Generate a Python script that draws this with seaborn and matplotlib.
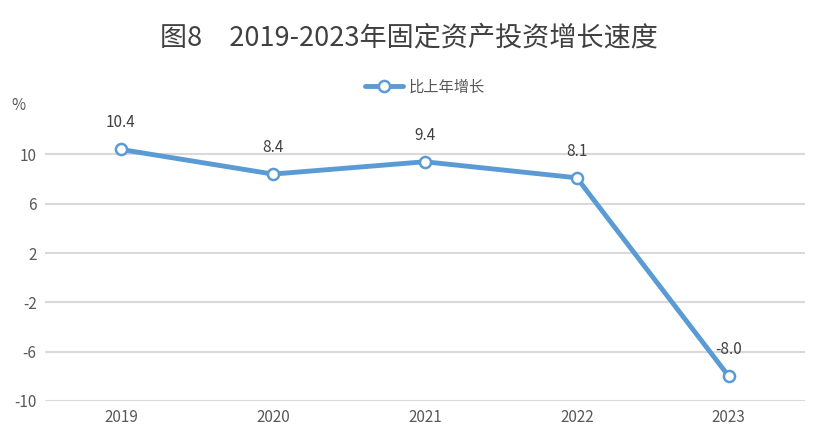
import matplotlib
matplotlib.use("Agg")
import matplotlib.pyplot as plt
import seaborn as sns
import pandas as pd

years  = ["2019", "2020", "2021", "2022", "2023"]
growth = [10.4, 8.4, 9.4, 8.1, -8.0]
yticks = [-10, -6, -2, 2, 6, 10]

BLUE = "#5B9BD5"
GREY = "#595959"

sns.set_theme(style="white")
plt.rcParams["font.family"] = ["Noto Sans CJK SC", "DejaVu Sans"]
plt.rcParams["axes.unicode_minus"] = False

df = pd.DataFrame({"year": years, "growth": growth})

fig = plt.figure(figsize=(8.17, 4.47), dpi=100)
ax = fig.add_axes([0.055, 0.103, 0.93, 0.662])

sns.lineplot(data=df, x="year", y="growth", ax=ax, color=BLUE, linewidth=3.5,
             marker="o", markersize=8, markerfacecolor="white",
             markeredgecolor=BLUE, markeredgewidth=1.8, label="比上年增长",
             sort=False)

for i, v in enumerate(growth):
    ax.annotate(f"{v:.1f}", (i, v), xytext=(0, 13), textcoords="offset points",
                ha="center", va="bottom", fontsize=11, color="#404040")

ax.set_xlim(-0.5, 4.5)
ax.set_ylim(-10, 14)
ax.set_yticks(yticks)
ax.yaxis.grid(True, color="#D9D9D9", linewidth=1.5)
ax.xaxis.grid(False)
for s in ax.spines.values():
    s.set_visible(False)
ax.tick_params(axis="both", labelsize=11, colors=GREY, length=0, pad=6)
ax.set_xlabel("")
ax.set_ylabel("")

ax.text(-0.035, 14, "%", transform=ax.get_yaxis_transform(), ha="center",
        va="center", fontsize=11, color=GREY)

ax.legend(loc="center", bbox_to_anchor=(0.5, 1.06), frameon=False,
          fontsize=11, labelcolor=GREY, handlelength=2.5, handletextpad=0.4)

fig.suptitle("图8　2019-2023年固定资产投资增长速度", x=0.5, y=0.945,
             fontsize=19.5, color="#404040")

fig.savefig("out.png", dpi=100)
